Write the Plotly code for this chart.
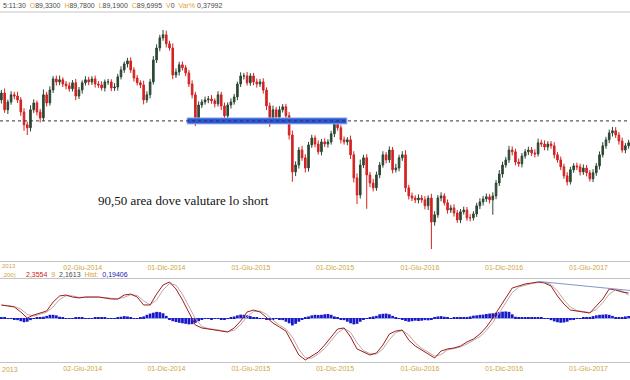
import plotly.graph_objects as go
import pandas as pd

# ---------------- data ----------------
start_week = "2014-01-20"

opens = [
91.20, 91.43, 90.87, 91.13, 91.37, 91.33, 91.20, 90.80, 90.37, 90.27,
90.87, 91.10, 90.80, 90.60, 91.37, 91.10, 91.53, 91.90, 91.80, 91.87,
91.73, 91.67, 91.57, 91.77, 91.33, 91.53, 91.77, 91.87, 91.80, 91.90,
91.73, 91.70, 91.60, 91.80, 91.80, 91.60, 91.63, 91.97, 92.20, 92.40,
92.50, 92.20, 91.93, 91.77, 91.70, 91.20, 91.37, 91.80, 92.53, 92.93,
93.27, 93.37, 93.07, 92.93, 92.03, 92.13, 92.37, 92.27, 92.10, 91.73,
91.37, 90.60, 91.03, 91.13, 91.20, 91.23, 91.17, 91.07, 91.37, 91.00,
90.67, 91.03, 91.13, 91.30, 91.73, 92.00, 92.00, 91.77, 92.00, 91.80,
91.73, 91.80, 91.53, 91.00, 90.53, 90.87, 90.63, 90.87, 90.97, 90.67,
90.03, 88.80, 89.03, 89.53, 89.27, 88.93, 89.70, 89.93, 89.73, 89.47,
89.80, 89.73, 89.80, 90.07, 90.47, 90.27, 89.87, 89.80, 89.87, 89.37,
88.60, 88.03, 89.03, 89.27, 88.70, 88.43, 88.27, 88.70, 89.03, 89.37,
89.20, 89.53, 88.87, 88.93, 89.27, 89.37, 88.27, 88.00, 87.93, 87.87,
87.93, 87.87, 87.67, 87.93, 87.13, 87.37, 87.93, 88.00, 87.77, 87.53,
87.60, 87.43, 87.20, 87.47, 87.53, 87.27, 87.27, 87.40, 87.67, 87.80,
87.90, 87.97, 87.87, 88.00, 88.43, 88.73, 89.03, 89.20, 89.53, 89.47,
89.13, 89.07, 89.33, 89.47, 89.53, 89.43, 89.40, 89.77, 89.73, 89.63,
89.73, 89.67, 89.37, 89.20, 88.97, 88.67, 88.47, 88.87, 89.00, 88.97,
88.80, 88.93, 88.77, 88.57, 88.77, 89.00, 89.37, 89.67, 89.87, 90.10,
90.17, 90.03, 89.83, 89.53, 89.67, 89.77]

closes = [
91.43, 90.87, 91.13, 91.37, 91.33, 91.20, 90.80, 90.37, 90.27, 90.87,
91.10, 90.80, 90.60, 91.37, 91.10, 91.53, 91.90, 91.80, 91.87, 91.73,
91.67, 91.57, 91.77, 91.33, 91.53, 91.77, 91.87, 91.80, 91.90, 91.73,
91.70, 91.60, 91.80, 91.80, 91.60, 91.63, 91.97, 92.20, 92.40, 92.50,
92.20, 91.93, 91.77, 91.70, 91.20, 91.37, 91.80, 92.53, 92.93, 93.27,
93.37, 93.07, 92.93, 92.03, 92.13, 92.37, 92.27, 92.10, 91.73, 91.37,
90.60, 91.03, 91.13, 91.20, 91.23, 91.17, 91.07, 91.37, 91.00, 90.67,
91.03, 91.13, 91.30, 91.73, 92.00, 92.00, 91.77, 92.00, 91.80, 91.73,
91.80, 91.53, 91.00, 90.53, 90.87, 90.63, 90.87, 90.97, 90.67, 90.03,
88.80, 89.03, 89.53, 89.27, 88.93, 89.70, 89.93, 89.73, 89.47, 89.80,
89.73, 89.80, 90.07, 90.47, 90.27, 89.87, 89.80, 89.87, 89.37, 88.60,
88.03, 89.03, 89.27, 88.70, 88.43, 88.27, 88.70, 89.03, 89.37, 89.20,
89.53, 88.87, 88.93, 89.27, 89.37, 88.27, 88.00, 87.93, 87.87, 87.93,
87.87, 87.67, 87.93, 87.13, 87.37, 87.93, 88.00, 87.77, 87.53, 87.60,
87.43, 87.20, 87.47, 87.53, 87.27, 87.27, 87.40, 87.67, 87.80, 87.90,
87.97, 87.87, 88.00, 88.43, 88.73, 89.03, 89.20, 89.53, 89.47, 89.13,
89.07, 89.33, 89.47, 89.53, 89.43, 89.40, 89.77, 89.73, 89.63, 89.73,
89.67, 89.37, 89.20, 88.97, 88.67, 88.47, 88.87, 89.00, 88.97, 88.80,
88.93, 88.77, 88.57, 88.77, 89.00, 89.37, 89.67, 89.87, 90.10, 90.17,
90.03, 89.83, 89.53, 89.67, 89.77, 89.70]

wick_up = [
0.10,0.15,0.08,0.12,0.10,0.14,0.09,0.12,0.10,0.15,
0.12,0.08,0.10,0.18,0.10,0.12,0.09,0.11,0.14,0.08,
0.10,0.12,0.09,0.13,0.10,0.08,0.12,0.10,0.09,0.11,
0.10,0.12,0.08,0.10,0.09,0.13,0.10,0.12,0.08,0.10,
0.12,0.09,0.10,0.08,0.14,0.12,0.10,0.13,0.12,0.10,
0.16,0.14,0.10,0.15,0.12,0.10,0.11,0.09,0.10,0.12,
0.10,0.12,0.09,0.11,0.10,0.13,0.08,0.12,0.10,0.11,
0.09,0.12,0.10,0.08,0.12,0.10,0.13,0.09,0.10,0.11,
0.10,0.12,0.09,0.11,0.14,0.10,0.12,0.09,0.10,0.12,
0.15,0.12,0.10,0.14,0.12,0.10,0.11,0.09,0.12,0.10,
0.12,0.09,0.10,0.13,0.12,0.10,0.11,0.09,0.14,0.12,
0.15,0.18,0.10,0.12,0.10,0.14,0.11,0.10,0.12,0.09,
0.12,0.10,0.14,0.10,0.12,0.15,0.10,0.11,0.09,0.12,
0.10,0.12,0.09,0.14,0.12,0.10,0.12,0.09,0.11,0.10,
0.12,0.10,0.09,0.11,0.10,0.12,0.09,0.10,0.12,0.10,
0.11,0.09,0.12,0.10,0.13,0.11,0.10,0.14,0.12,0.10,
0.12,0.10,0.09,0.11,0.10,0.12,0.14,0.10,0.12,0.09,
0.10,0.12,0.09,0.11,0.10,0.12,0.10,0.09,0.11,0.10,
0.12,0.10,0.09,0.12,0.10,0.11,0.12,0.10,0.11,0.13,
0.12,0.10,0.11,0.09,0.10,0.08]

wick_dn = [
0.12,0.10,0.14,0.09,0.11,0.10,0.13,0.20,0.24,0.12,
0.10,0.12,0.15,0.10,0.12,0.09,0.10,0.12,0.11,0.10,
0.12,0.10,0.09,0.14,0.10,0.12,0.09,0.11,0.10,0.12,
0.10,0.09,0.12,0.10,0.11,0.10,0.12,0.09,0.10,0.12,
0.10,0.12,0.09,0.11,0.15,0.10,0.12,0.09,0.10,0.11,
0.10,0.12,0.09,0.14,0.10,0.12,0.09,0.11,0.10,0.12,
0.27,0.12,0.10,0.09,0.11,0.10,0.12,0.09,0.14,0.12,
0.10,0.12,0.09,0.11,0.10,0.12,0.09,0.10,0.11,0.12,
0.10,0.12,0.14,0.23,0.12,0.10,0.12,0.09,0.11,0.15,
0.33,0.14,0.12,0.10,0.15,0.12,0.10,0.11,0.09,0.12,
0.10,0.12,0.09,0.11,0.10,0.12,0.09,0.11,0.14,0.15,
0.30,0.12,0.10,1.13,0.14,0.12,0.10,0.11,0.09,0.12,
0.10,0.12,0.09,0.11,0.10,0.14,0.12,0.10,0.11,0.12,
0.10,0.12,0.14,0.90,0.12,0.10,0.11,0.09,0.12,0.10,
0.12,0.10,0.11,0.09,0.10,0.12,0.09,0.10,0.11,0.12,
0.10,0.12,0.50,0.11,0.10,0.12,0.09,0.10,0.12,0.11,
0.10,0.12,0.09,0.11,0.10,0.12,0.09,0.10,0.11,0.12,
0.10,0.12,0.09,0.11,0.10,0.12,0.09,0.10,0.11,0.12,
0.10,0.12,0.09,0.11,0.10,0.12,0.09,0.10,0.11,0.12,
0.10,0.12,0.09,0.11,0.10,0.12]

hist = [
0.08,0.05,-0.05,-0.08,-0.12,-0.20,-0.30,-0.40,-0.35,-0.20,
-0.05,0.05,0.10,0.12,0.20,0.30,0.30,0.25,0.12,0.05,
-0.05,-0.08,-0.04,0.03,0.05,0.02,-0.04,-0.06,-0.03,0.02,
0.04,0.06,0.03,-0.02,-0.04,-0.03,0.05,0.12,0.18,0.15,
0.08,-0.02,-0.05,0.05,0.15,0.30,0.42,0.50,0.58,0.55,
0.45,0.20,-0.10,-0.30,-0.38,-0.45,-0.50,-0.55,-0.60,-0.58,
-0.45,-0.30,-0.15,-0.08,-0.05,-0.10,-0.08,-0.06,-0.10,-0.12,
-0.05,0.05,0.15,0.25,0.32,0.30,0.25,0.18,0.08,0.02,
-0.03,-0.05,-0.10,-0.12,-0.10,-0.08,-0.12,-0.20,-0.35,-0.50,
-0.70,-0.55,-0.35,-0.15,0.05,0.15,0.25,0.30,0.28,0.30,
0.35,0.38,0.30,0.15,0.02,-0.10,-0.20,-0.35,-0.50,-0.60,
-0.55,-0.35,-0.15,-0.05,0.08,0.15,0.20,0.35,0.40,0.42,
0.35,0.20,0.05,-0.05,-0.15,-0.28,-0.35,-0.30,-0.25,-0.28,
-0.25,-0.20,-0.22,-0.15,0.05,0.15,0.18,0.12,0.05,-0.03,
0.03,0.05,0.04,0.08,0.06,0.15,0.22,0.25,0.30,0.32,
0.38,0.42,0.45,0.50,0.55,0.60,0.62,0.58,0.35,0.12,
0.08,0.05,0.06,0.08,0.05,0.03,0.06,0.05,-0.02,-0.08,
-0.20,-0.32,-0.40,-0.45,-0.42,-0.35,-0.20,-0.10,-0.08,-0.05,
0.02,0.05,0.10,0.18,0.25,0.30,0.32,0.35,0.30,0.20,
0.08,0.05,0.10,0.15,0.19,0.19]

macd_start = "2014-01-20"
macd = [
1.23,1.13,1.04,0.57,0.00,0.28,0.47,0.66,1.51,2.08,
2.17,1.98,1.89,1.98,1.98,1.98,1.89,1.79,1.79,2.17,
2.26,1.98,1.23,1.23,2.26,3.11,3.40,2.74,1.70,0.47,
-0.66,-0.94,-1.04,-1.13,-1.23,-1.32,-0.94,-0.28,0.57,0.75,
0.57,0.09,-0.47,-0.85,-1.23,-2.36,-3.49,-3.96,-3.58,-3.21,
-2.55,-1.79,-1.04,-0.94,-1.79,-2.92,-3.21,-3.49,-3.30,-2.55,
-1.51,-1.23,-1.13,-2.08,-2.64,-3.02,-3.40,-3.77,-3.11,-2.92,
-2.83,-2.64,-2.26,-1.98,-1.51,-0.85,0.00,0.94,1.98,2.83,
3.02,3.21,3.30,3.40,3.30,3.02,2.08,1.32,0.75,0.66,
0.57,0.47,1.13,1.79,2.74,2.64,2.45,2.36]
signal = [
1.20,1.18,1.08,0.85,0.35,0.18,0.36,0.55,1.05,1.75,
2.10,2.08,1.95,1.93,1.97,1.98,1.94,1.85,1.80,1.95,
2.20,2.12,1.62,1.25,1.70,2.65,3.25,3.10,2.25,1.10,
-0.05,-0.80,-1.00,-1.08,-1.18,-1.28,-1.15,-0.62,0.12,0.62,
0.66,0.35,-0.20,-0.68,-1.05,-1.80,-2.95,-3.75,-3.78,-3.40,
-2.88,-2.18,-1.40,-0.98,-1.35,-2.35,-3.08,-3.36,-3.40,-2.92,
-2.05,-1.37,-1.18,-1.60,-2.36,-2.85,-3.22,-3.60,-3.45,-3.00,
-2.88,-2.73,-2.45,-2.12,-1.75,-1.18,-0.42,0.48,1.45,2.40,
2.92,3.12,3.25,3.35,3.35,3.16,2.55,1.70,1.03,0.70,
0.62,0.52,0.80,1.45,2.25,2.68,2.55,2.16]

trend_dates = ["2017-03-28", "2017-10-12"]
trend_vals = [3.45, 2.60]

level = 90.50
band_dates = ["2015-02-26", "2016-02-07"]
band_half = 0.10

tick_vals = ["2014-06-02", "2014-12-01", "2015-06-01", "2015-12-01",
             "2016-06-01", "2016-12-01", "2017-06-01"]
tick_text = ["02-Giu-2014", "01-Dic-2014", "01-Giu-2015", "01-Dic-2015",
             "01-Giu-2016", "01-Dic-2016", "01-Giu-2017"]
x_range = ["2014-01-17", "2017-10-12"]

# ---------------- build ----------------
n = min(len(opens), len(closes), len(wick_up), len(wick_dn))
dates = pd.date_range(start_week, periods=n, freq="7D")
highs = [max(opens[i], closes[i]) + wick_up[i] for i in range(n)]
lows = [min(opens[i], closes[i]) - wick_dn[i] for i in range(n)]
hdates = pd.date_range(start_week, periods=len(hist), freq="7D")
mdates = pd.date_range(macd_start, periods=len(macd), freq="14D")

W, H = 630, 380
def py(px):
    return 1 - px / H

GOLD = "#cfa540"
fig = go.Figure()
fig.add_trace(go.Candlestick(
    x=dates, open=opens[:n], high=highs, low=lows, close=closes[:n],
    increasing=dict(line=dict(color="#2c4733", width=1), fillcolor="#2c4733"),
    decreasing=dict(line=dict(color="#d42222", width=1), fillcolor="#d42222"),
    whiskerwidth=0, showlegend=False, xaxis="x", yaxis="y", hoverinfo="skip"))

fig.add_trace(go.Bar(x=hdates, y=hist, marker=dict(color="#1818cc", line=dict(width=0)),
                     xaxis="x2", yaxis="y2", showlegend=False, hoverinfo="skip"))
fig.add_trace(go.Scatter(x=mdates, y=signal, mode="lines",
                         line=dict(color="#bca6a6", width=1), xaxis="x2", yaxis="y2",
                         showlegend=False, hoverinfo="skip"))
fig.add_trace(go.Scatter(x=mdates, y=macd, mode="lines",
                         line=dict(color="#9e1c1c", width=1), xaxis="x2", yaxis="y2",
                         showlegend=False, hoverinfo="skip"))
fig.add_trace(go.Scatter(x=trend_dates, y=trend_vals, mode="lines",
                         line=dict(color="#7d98c8", width=1), xaxis="x2", yaxis="y2",
                         showlegend=False, hoverinfo="skip"))

axis_common = dict(
    range=x_range, type="date", showgrid=False, zeroline=False,
    showline=True, linecolor="#c4c4c4", linewidth=1, mirror=False,
    tickmode="array", tickvals=tick_vals, ticktext=tick_text, ticks="",
    ticklabelposition="outside right",
    tickfont=dict(family="Liberation Sans, Arial", size=7, color=GOLD),
)

fig.update_layout(
    width=W, height=H, margin=dict(l=0, r=0, t=0, b=0),
    paper_bgcolor="white", plot_bgcolor="white",
    bargap=0.15, showlegend=False,
    xaxis=dict(domain=[0, 1], anchor="y", rangeslider=dict(visible=False), **axis_common),
    yaxis=dict(domain=[py(261), py(12)], range=[85.83, 94.13], showticklabels=False,
               showgrid=False, zeroline=False, fixedrange=True),
    xaxis2=dict(domain=[0, 1], anchor="y2", **axis_common),
    yaxis2=dict(domain=[py(362), py(279)], range=[-4.15, 3.68], showticklabels=False,
                showgrid=False, zeroline=True, zerolinecolor="#9aaee0", zerolinewidth=1),
)

shapes = [
    dict(type="line", xref="paper", yref="paper", x0=0, x1=1, y0=py(12), y1=py(12),
         line=dict(color="#c4c4c4", width=1)),
    dict(type="line", xref="paper", yref="paper", x0=0, x1=1, y0=py(278.5), y1=py(278.5),
         line=dict(color="#c4c4c4", width=1)),
    dict(type="rect", xref="x", yref="y", x0=band_dates[0], x1=band_dates[1],
         y0=level - band_half, y1=level + band_half,
         fillcolor="#2b56d6", line=dict(color="#8fb0f2", width=1)),
    dict(type="line", xref="paper", yref="y", x0=0, x1=1, y0=level, y1=level,
         line=dict(color="#333333", width=1, dash="3px,3px")),
]
fig.update_layout(shapes=shapes)

def c(t, col):
    return f"<span style='color:{col}'>{t}</span>"

DK = "#4a4a4a"
OR = "#e5a23a"
header = (c("5:11:30", DK) + "  " + c("O", OR) + c("89,3300", DK) + "  "
          + c("H", OR) + c("89,7800", DK) + "  " + c("L", OR) + c("89,1900", DK)
          + "  " + c("C", OR) + c("89,6995", DK) + "  " + c("V", OR) + c("0", DK)
          + "  " + c("Var%", OR) + " " + c("0,37992", DK))

SANS = "Liberation Sans, Arial"
annotations = [
    dict(xref="paper", yref="paper", x=1 / W, y=py(5), xanchor="left", yanchor="middle",
         text=header, showarrow=False, font=dict(family=SANS, size=7)),
    dict(xref="paper", yref="paper", x=183 / W, y=py(200), xanchor="center", yanchor="middle",
         text="90,50 area dove valutare lo short", showarrow=False,
         font=dict(family="Liberation Serif, Times New Roman", size=13, color="#111111")),
    dict(xref="paper", yref="paper", x=0, y=py(265.5), xanchor="left", yanchor="middle",
         text="2013", showarrow=False, font=dict(family=SANS, size=6, color=GOLD)),
    dict(xref="paper", yref="paper", x=0, y=py(369), xanchor="left", yanchor="middle",
         text="2013", showarrow=False, font=dict(family=SANS, size=7, color=GOLD)),
    dict(xref="paper", yref="paper", x=0, y=py(274.5), xanchor="left", yanchor="middle",
         text=",200)", showarrow=False, font=dict(family=SANS, size=6, color=GOLD)),
    dict(xref="paper", yref="paper", x=24 / W, y=py(274), xanchor="left", yanchor="middle",
         text=(c("2,3554", "#d02020") + "  " + c("9", GOLD) + "  " + c("2,1613", DK)
               + "  " + c("Hist:", GOLD) + "  " + c("0,19406", "#2020b0")),
         showarrow=False, font=dict(family=SANS, size=7)),
]
fig.update_layout(annotations=annotations)

fig.write_html("out.html", config={"displayModeBar": False},
               post_script="document.body.style.margin='0';document.body.style.padding='0';")
